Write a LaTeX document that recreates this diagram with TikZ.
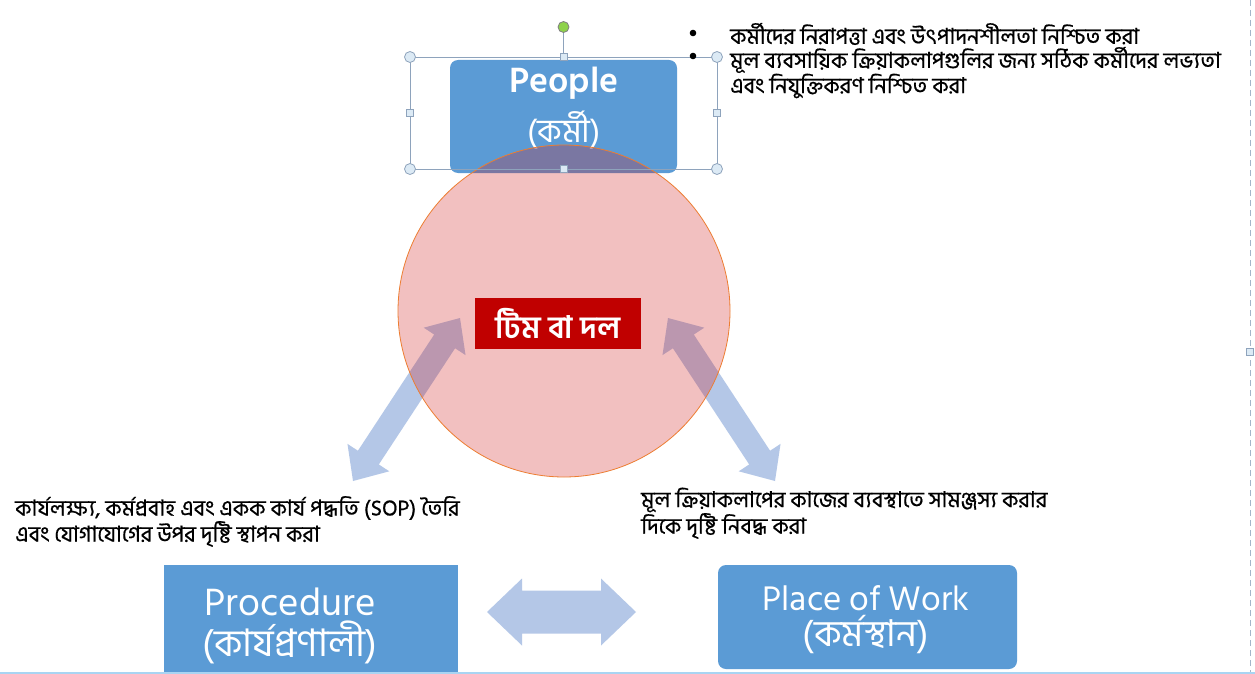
\documentclass[tikz,border=0pt]{standalone}
\usepackage{fontspec}
\usetikzlibrary{calc}
\setmainfont{Carlito}
\newfontfamily\bn[Script=Bengali]{Hind Siliguri}
\newfontfamily\bnnote[Script=Bengali, FakeBold=0.6]{Hind Siliguri}

\definecolor{boxblue}{HTML}{5B9BD5}
\definecolor{arrowblue}{HTML}{B4C7E7}
\definecolor{teamred}{HTML}{C00000}
\definecolor{ringedge}{HTML}{ED7D31}
\definecolor{ringfill}{RGB}{208,25,25}
\definecolor{handleline}{HTML}{8EA3BC}
\definecolor{handlefill}{HTML}{DCEAF5}
\definecolor{rotgreen}{HTML}{8ED24B}
\definecolor{edgeline}{HTML}{A3B5C9}
\definecolor{slideline}{HTML}{A9D4F2}

\newcommand\lblsize[1]{\fontsize{#1}{#1}\selectfont}

\tikzset{
  bluebox/.style={fill=boxblue, draw=none, inner sep=0pt, rounded corners=8pt},
  boxtext/.style={text=white, inner sep=0pt},
  note/.style={anchor=west, inner sep=0pt, text=black, font=\bnnote\fontsize{22}{26}\selectfont},
  fatarrow/.style={fill=arrowblue, draw=none},
  handle/.style={draw=handleline, fill=handlefill, line width=0.8pt},
}

% two-headed block arrow: tip A, tip B, head length, head half width, shaft half width
\newcommand\twowayarrow[5]{%
  \fill[fatarrow] (#1)
    -- ($(#1)!#3!(#2)!#4!90:(#2)$)
    -- ($(#1)!#3!(#2)!#5!90:(#2)$)
    -- ($(#2)!#3!(#1)!#5!-90:(#1)$)
    -- ($(#2)!#3!(#1)!#4!-90:(#1)$)
    -- (#2)
    -- ($(#2)!#3!(#1)!#4!90:(#1)$)
    -- ($(#2)!#3!(#1)!#5!90:(#1)$)
    -- ($(#1)!#3!(#2)!#5!-90:(#2)$)
    -- ($(#1)!#3!(#2)!#4!-90:(#2)$)
    -- cycle;}

\begin{document}
\begin{tikzpicture}[x=1pt, y=-1pt]
  \useasboundingbox (0,0) rectangle (1255,674);
  \fill[white] (0,0) rectangle (1255,674);

  % arrow end points
  \coordinate (ltop) at (460,318);
  \coordinate (lbot) at (353,481);
  \coordinate (rtop) at (668,318);
  \coordinate (rbot) at (775,481);
  \coordinate (hleft) at (487,612);
  \coordinate (hright) at (636,612);

  \twowayarrow{ltop}{lbot}{28pt}{25pt}{12.5pt}
  \twowayarrow{rtop}{rbot}{28pt}{25pt}{12.5pt}
  \twowayarrow{hleft}{hright}{35pt}{33.5pt}{21.5pt}

  % the three blocks
  \fill[bluebox] (450,60) rectangle (677,173);
  \fill[boxblue] (164,565) rectangle (458,680);
  \fill[bluebox] (718,565) rectangle (1017,669);

  \node[boxtext, font=\bn\bfseries\lblsize{36}] (people) at (564,83) {People};
  \node[boxtext, font=\bn\lblsize{33}] (peoplebn) at (564,130) {(কর্মী)};
  \node[boxtext, font=\bn\lblsize{39}] (proc) at (290,602) {Procedure};
  \node[boxtext, font=\bn\lblsize{38}] (procbn) at (290,642) {(কার্যপ্রণালী)};
  \node[boxtext, font=\bn\lblsize{35}] (place) at (866,598) {Place of Work};
  \node[boxtext, font=\bn\lblsize{37}] (placebn) at (866,635) {(কর্মস্থান)};

  % translucent team circle
  \node[circle, minimum size=332pt, inner sep=0pt, fill=ringfill, fill opacity=0.27,
        draw=ringedge, draw opacity=1, line width=0.8pt] (team) at (564,311) {};

  % team label
  \node[fill=teamred, minimum width=166pt, minimum height=51pt, inner sep=0pt,
        text=white, font=\bn\bfseries\lblsize{31}] (teamlabel) at (558,323.5) {টিম বা দল};

  % selection frame round the people block
  \draw[handleline, line width=0.9pt] (410,57) rectangle (717,169);
  \draw[handleline, line width=0.9pt] (563.5,57) -- (563.5,33);
  \foreach \hx/\hy in {410/57,717/57,410/169,717/169}
    \draw[handle] (\hx,\hy) circle (5.5pt);
  \foreach \hx/\hy in {563.5/57,563.5/169,410/113,717/113}
    \draw[handle] (\hx-3.5,\hy-3.5) rectangle (\hx+3.5,\hy+3.5);
  \draw[draw=gray, fill=rotgreen, line width=0.8pt] (563.5,27) circle (5.5pt);

  % notes
  \fill[black] (693,33) circle (3.3pt);
  \fill[black] (693,56) circle (3.3pt);
  \node[note] (n1) at (730,34) {কর্মীদের নিরাপত্তা এবং উৎপাদনশীলতা নিশ্চিত করা};
  \node[note] (n2) at (730,60) {মূল ব্যবসায়িক ক্রিয়াকলাপগুলির জন্য সঠিক কর্মীদের লভ্যতা};
  \node[note] (n3) at (730,86) {এবং নিযুক্তিকরণ নিশ্চিত করা};

  \node[note] (p1) at (15,508) {কার্যলক্ষ্য, কর্মপ্রবাহ এবং একক কার্য পদ্ধতি (SOP) তৈরি};
  \node[note] (p2) at (15,534) {এবং যোগাযোগের উপর দৃষ্টি স্থাপন করা};

  \node[note] (w1) at (641,500) {মূল ক্রিয়াকলাপের কাজের ব্যবস্থাতে সামঞ্জস্য করার};
  \node[note] (w2) at (641,526) {দিকে দৃষ্টি নিবদ্ধ করা};

  % slide edge
  \draw[edgeline, dash pattern=on 6pt off 4pt, line width=0.9pt] (1250,0) -- (1250,674);
  \draw[handle] (1246.5,348.5) rectangle (1253.5,355.5);
  \draw[slideline, line width=1.2pt] (0,673) -- (1255,673);
\end{tikzpicture}
\end{document}
